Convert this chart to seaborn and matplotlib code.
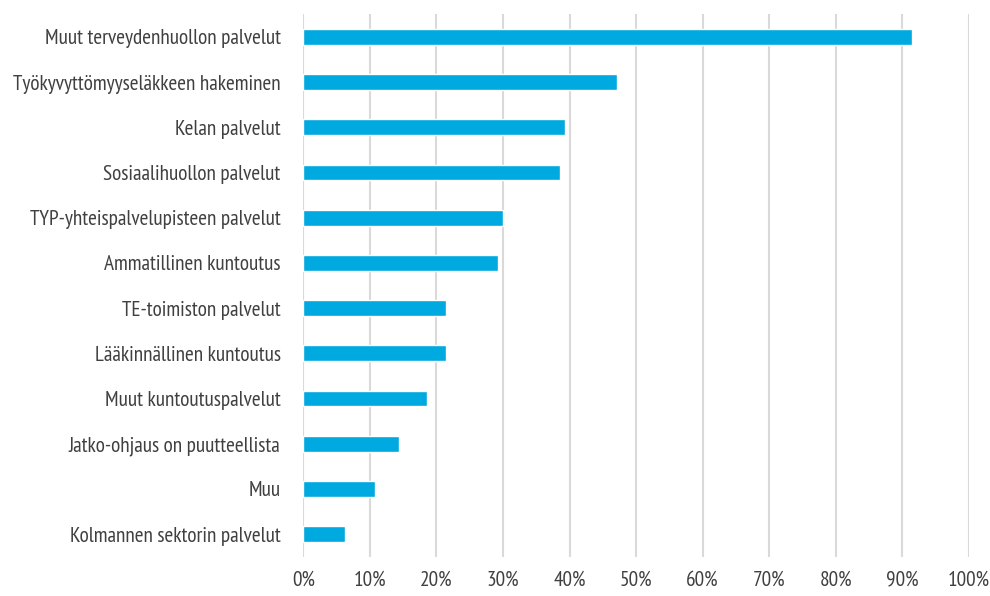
import matplotlib
matplotlib.use("Agg")
import matplotlib.pyplot as plt
import seaborn as sns
import pandas as pd
from matplotlib import font_manager as fm
from matplotlib.ticker import FuncFormatter

categories = [
    "Muut terveydenhuollon palvelut",
    "Työkyvyttömyyseläkkeen hakeminen",
    "Kelan palvelut",
    "Sosiaalihuollon palvelut",
    "TYP-yhteispalvelupisteen palvelut",
    "Ammatillinen kuntoutus",
    "TE-toimiston palvelut",
    "Lääkinnällinen kuntoutus",
    "Muut kuntoutuspalvelut",
    "Jatko-ohjaus on puutteellista",
    "Muu",
    "Kolmannen sektorin palvelut",
]
values = [91.5, 47.1, 39.3, 38.6, 30.0, 29.2, 21.4, 21.4, 18.5, 14.3, 10.7, 6.3]
xticks = [0, 10, 20, 30, 40, 50, 60, 70, 80, 90, 100]

sns.set_theme(style="white")
available = {f.name for f in fm.fontManager.ttflist}
preferred = ["PT Sans Narrow", "Open Sans Condensed", "Roboto Condensed",
             "Archivo Narrow", "Barlow Semi Condensed", "Liberation Sans Narrow"]
chosen = [f for f in preferred if f in available][:1]
plt.rcParams['font.family'] = chosen + ['DejaVu Sans']

df = pd.DataFrame({"cat": categories, "val": values})

fig = plt.figure(figsize=(9.9, 5.96), dpi=100)
ax = fig.add_axes([0.3065, 0.066, 0.672, 0.910])

# pick a font size so the longest-label width matches the reference (~235 px)
r = fig.canvas.get_renderer()
t = fig.text(0, 0, categories[0], fontsize=10)
w10 = t.get_window_extent(renderer=r).width
t.remove()
fs = 10 * 236.0 / w10

sns.barplot(data=df, x="val", y="cat", color="#00A9E0", saturation=1,
            width=0.35, ax=ax, orient="h")
ax.set_xlim(0, 100)
ax.set_ylim(11.5, -0.5)
ax.set_xticks(xticks)
ax.xaxis.set_major_formatter(FuncFormatter(lambda v, p: f"{int(v)}%"))
ax.grid(axis="x", color="#D9D9D9", linewidth=1.5)
ax.set_axisbelow(True)
for s in ax.spines.values():
    s.set_visible(False)
ax.set_xlabel("")
ax.set_ylabel("")
ax.tick_params(axis="both", length=0, colors="#404040", labelsize=fs)
ax.tick_params(axis="x", pad=10)
ax.tick_params(axis="y", pad=16.5)
fig.savefig("out.png", dpi=100)
